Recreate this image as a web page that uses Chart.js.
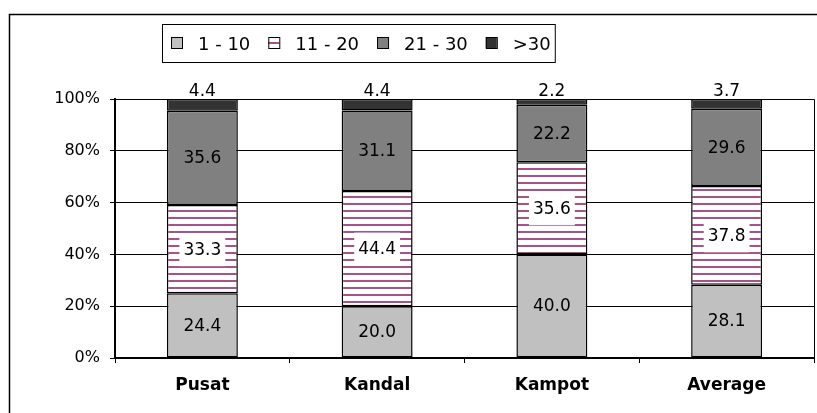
<!DOCTYPE html>
<html>
<head>
<meta charset="utf-8">
<script src="https://cdn.jsdelivr.net/npm/chart.js@4"></script>
<style>
  body { margin: 0; background: #fff; }
  canvas { display: block; }
</style>
</head>
<body>
<canvas id="chart" width="817" height="413"></canvas>
<script>
// data
const categories = ['Pusat', 'Kandal', 'Kampot', 'Average'];
const seriesNames = ['1 - 10', '11 - 20', '21 - 30', '>30'];
const v1to10 = [24.4, 20.0, 40.0, 28.1];
const v11to20 = [33.3, 44.4, 35.6, 37.8];
const v21to30 = [35.6, 31.1, 22.2, 29.6];
const vOver30 = [4.4, 4.4, 2.2, 3.7];

const FONT = 'DejaVu Sans';

// horizontal stripe fill for the 11 - 20 band
function stripes() {
    const c = document.createElement('canvas');
    c.width = 8; c.height = 7;
    const g = c.getContext('2d');
    g.fillStyle = '#ffffff';
    g.fillRect(0, 0, 8, 7);
    g.fillStyle = '#a8528a';
    g.fillRect(0, 0, 8, 2);
    return g.createPattern(c, 'repeat');
}

const ctx = document.getElementById('chart').getContext('2d');
const stripeFill = stripes();

const raw = [v1to10, v11to20, v21to30, vOver30];
const totals = categories.map((c, i) => raw.reduce((s, arr) => s + arr[i], 0));
const pct = arr => arr.map((v, i) => v / totals[i] * 100);

const fills = ['#c0c0c0', stripeFill, '#808080', '#333333'];

const datasets = raw.map((arr, k) => ({
    label: seriesNames[k],
    data: pct(arr),
    rawValues: arr,
    backgroundColor: fills[k],
    borderColor: '#000',
    borderWidth: 1.5,
    borderSkipped: false,
    categoryPercentage: 1,
    barPercentage: 0.406,
}));

// value labels on the segments
const valueLabels = {
    id: 'valueLabels',
    afterDatasetsDraw(chart) {
        const c = chart.ctx;
        c.save();
        c.font = '17px "' + FONT + '"';
        c.textAlign = 'center';
        c.textBaseline = 'middle';
        chart.data.datasets.forEach((ds, k) => {
            const meta = chart.getDatasetMeta(k);
            meta.data.forEach((bar, i) => {
                const txt = ds.rawValues[i].toFixed(1);
                let y = (bar.y + bar.base) / 2;
                if (k === 3) y = chart.chartArea.top - 8;
                if (k === 1) {
                    const w = c.measureText(txt).width + 8;
                    c.fillStyle = '#fff';
                    c.fillRect(bar.x - w / 2, y - 16, w, 33);
                }
                c.fillStyle = '#000';
                c.fillText(txt, bar.x, y + 1);
            });
        });
        c.restore();
    }
};

// plot border, outer frame and legend box
const decorations = {
    id: 'decorations',
    afterDraw(chart) {
        const c = chart.ctx;
        const a = chart.chartArea;
        c.save();
        c.strokeStyle = '#000';
        c.lineWidth = 1;
        c.beginPath();
        c.moveTo(a.left, a.top + 0.5);
        c.lineTo(a.right + 0.5, a.top + 0.5);
        c.lineTo(a.right + 0.5, a.bottom);
        c.stroke();

        // outer frame (only top and left visible)
        c.lineWidth = 1.5;
        c.beginPath();
        c.moveTo(9.5, 413);
        c.lineTo(9.5, 14.5);
        c.lineTo(817, 14.5);
        c.stroke();

        // legend
        c.font = '18px "' + FONT + '"';
        c.textBaseline = 'middle';
        c.textAlign = 'left';
        let x = 171;
        const y = 43;
        chart.data.datasets.forEach((ds) => {
            c.fillStyle = ds.backgroundColor;
            c.fillRect(x, y - 6, 11, 11);
            c.lineWidth = 1;
            c.strokeRect(x + 0.5, y - 5.5, 11, 11);
            c.fillStyle = '#000';
            const tx = x + 27;
            c.fillText(ds.label, tx, y + 2);
            x = tx + c.measureText(ds.label).width + 18;
        });
        c.lineWidth = 1;
        c.strokeRect(162.5, 24.5, x - 18 + 4 - 162, 38);
        c.restore();
    }
};

let chart = new Chart(ctx, {
    type: 'bar',
    data: { labels: categories, datasets: datasets },
    options: {
        responsive: false,
        animation: false,
        layout: { padding: { top: 99, right: 3, left: 0, bottom: 0 } },
        plugins: {
            legend: { display: false },
            tooltip: { enabled: false },
        },
        scales: {
            x: {
                stacked: true,
                grid: {
                    offset: true,
                    drawOnChartArea: false,
                    color: '#000',
                    tickLength: 5,
                },
                border: { color: '#000', width: 2 },
                ticks: {
                    color: '#000',
                    padding: 12,
                    font: { family: FONT, size: 17, weight: 'bold' },
                },
                afterFit: s => { s.height = 55; },
            },
            y: {
                stacked: true,
                min: 0,
                max: 100,
                grid: { color: '#000', tickLength: 5 },
                border: { color: '#000', width: 2 },
                ticks: {
                    stepSize: 20,
                    color: '#000',
                    padding: 10,
                    font: { family: FONT, size: 16 },
                    callback: v => v + '%',
                },
                afterFit: s => { s.width = 115; },
            },
        },
    },
    plugins: [valueLabels, decorations],
});
</script>
</body>
</html>
